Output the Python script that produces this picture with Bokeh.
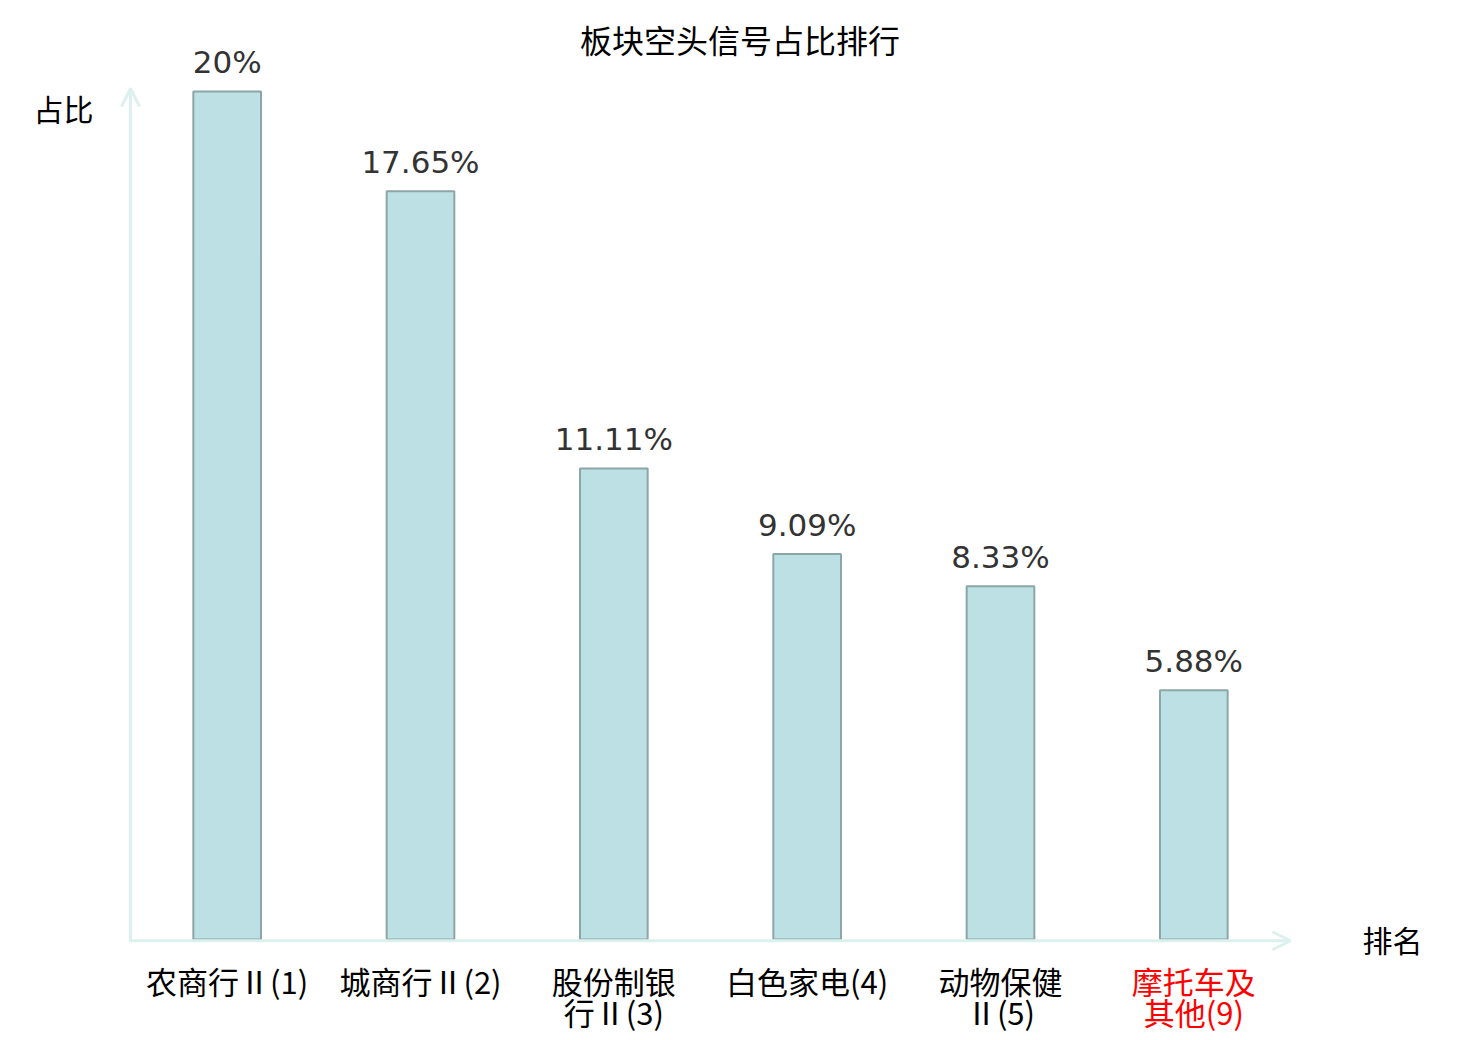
from bokeh.plotting import figure
from bokeh.models import ColumnDataSource, LabelSet, Label, Arrow, OpenHead, Range1d
from bokeh.core.properties import value
from bokeh.embed import file_html
from bokeh.resources import INLINE

# ---- data ----
categories_line1 = ["农商行Ⅱ(1)", "城商行Ⅱ(2)", "股份制银", "白色家电(4)", "动物保健", "摩托车及"]
categories_line2 = ["", "", "行Ⅱ(3)", "", "Ⅱ(5)", "其他(9)"]
label_colors = ["#000000", "#000000", "#000000", "#000000", "#000000", "#ff0000"]
values = [20, 17.65, 11.11, 9.09, 8.33, 5.88]
value_texts = ["20%", "17.65%", "11.11%", "9.09%", "8.33%", "5.88%"]
title_text = "板块空头信号占比排行"
y_name = "占比"
x_name = "排名"

positions = list(range(len(values)))
src = ColumnDataSource(dict(x=positions, top=values, vt=value_texts,
                            l1=categories_line1, l2=categories_line2,
                            col=label_colors, zero=[0] * len(values)))

CJK_NAME = "Noto Sans CJK SC"
CJK = value(CJK_NAME)
Y_TOP = 20.07      # top of the y axis arrow
X_END = 5.5        # end of the x axis arrow

W, H = 1472, 1036
# frame covers whole canvas so that annotations outside the "plot" are not clipped
p = figure(width=W, height=H, output_backend="svg", toolbar_location=None,
           x_range=Range1d(-1.1724, 6.4415), y_range=Range1d(-2.2877, 22.146),
           min_border=0)
p.xaxis.visible = False
p.yaxis.visible = False
p.grid.visible = False
p.outline_line_color = None
p.background_fill_color = "white"
p.border_fill_color = "white"

p.vbar(x="x", top="top", bottom=0, width=0.35, source=src,
       fill_color="#bce0e3", line_color="#8ca6a7", line_width=2)

# axes with arrows
axis_col = "#dcf1ed"
p.add_layout(Arrow(end=OpenHead(line_color=axis_col, line_width=3, size=18),
                   x_start=-0.5, y_start=-0.03, x_end=-0.5, y_end=Y_TOP,
                   line_color=axis_col, line_width=3))
p.add_layout(Arrow(end=OpenHead(line_color=axis_col, line_width=3, size=18),
                   x_start=-0.508, y_start=-0.03, x_end=X_END, y_end=-0.03,
                   line_color=axis_col, line_width=3))

# value labels
p.add_layout(LabelSet(x="x", y="top", text="vt", source=src, y_offset=18,
                      text_align="center", text_baseline="alphabetic",
                      text_font=value("DejaVu Sans"), text_font_size="31px",
                      text_color="#333333"))

# category labels
p.add_layout(LabelSet(x="x", y="zero", text="l1", source=src, y_offset=-41,
                      text_align="center", text_baseline="middle",
                      text_font=CJK, text_font_size="31px", text_color="col"))
p.add_layout(LabelSet(x="x", y="zero", text="l2", source=src, y_offset=-72,
                      text_align="center", text_baseline="middle",
                      text_font=CJK, text_font_size="31px", text_color="col"))

# title and axis names
p.add_layout(Label(x=2.653, y=21.23, text=title_text, text_align="center",
                   text_baseline="middle", text_font=CJK_NAME, text_font_size="32px",
                   text_color="#000000"))
p.add_layout(Label(x=-0.847, y=19.62, text=y_name, text_align="center",
                   text_baseline="middle", text_font=CJK_NAME, text_font_size="30px",
                   text_color="#000000"))
p.add_layout(Label(x=6.028, y=0.02, text=x_name, text_align="center",
                   text_baseline="middle", text_font=CJK_NAME, text_font_size="30px",
                   text_color="#000000"))

open("out.html", "w").write(file_html(p, INLINE))
